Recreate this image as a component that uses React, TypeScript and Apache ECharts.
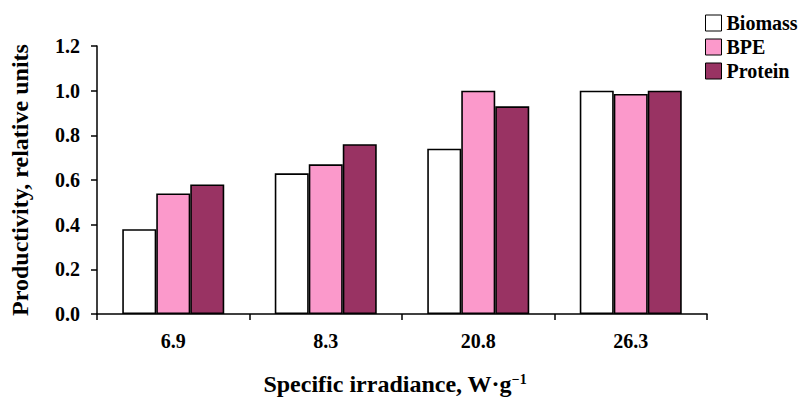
import React, { useEffect, useRef } from "react";
import * as echarts from "echarts";

const categories = ["6.9", "8.3", "20.8", "26.3"];
const seriesNames = ["Biomass", "BPE", "Protein"];
const biomass = [0.38, 0.63, 0.74, 1.0];
const bpe = [0.54, 0.67, 1.0, 0.985];
const protein = [0.58, 0.76, 0.93, 1.0];
const yTicks = { min: 0, max: 1.2, interval: 0.2 };
const colors = ["#ffffff", "#fb99cb", "#993363"];

const FONT = "'Liberation Serif', 'Times New Roman', serif";

export default function App() {
  const ref = useRef<HTMLDivElement>(null);
  useEffect(() => {
    if (!ref.current) return;
    const chart = echarts.init(ref.current, undefined, { renderer: "svg" });
    const values = [biomass, bpe, protein];
    chart.setOption({
      animation: false,
      backgroundColor: "#ffffff",
      textStyle: { fontFamily: FONT },
      grid: { left: 97, right: 92, top: 46, bottom: 86, containLabel: false },
      legend: {
        orient: "vertical",
        left: 700,
        top: 8,
        itemWidth: 16,
        itemHeight: 16,
        itemGap: 4,
        icon: "rect",
        data: seriesNames,
        textStyle: { fontFamily: FONT, fontWeight: "bold", fontSize: 20, color: "#000" },
        itemStyle: { borderColor: "#000", borderWidth: 1 },
      },
      xAxis: {
        type: "category",
        data: categories,
        boundaryGap: true,
        axisLine: { lineStyle: { color: "#000", width: 1.5 } },
        axisTick: { show: true, length: 6, lineStyle: { color: "#000", width: 1.5 } },
        axisLabel: { margin: 17, fontFamily: FONT, fontWeight: "bold", fontSize: 20, color: "#000" },
        name: "Specific irradiance, W·g{sup|−1}",
        nameLocation: "middle",
        nameGap: 58,
        nameTextStyle: {
          fontFamily: FONT,
          fontWeight: "bold",
          fontSize: 24,
          color: "#000",
          padding: [0, 14, 0, 0],
          rich: {
            sup: { fontFamily: FONT, fontWeight: "bold", fontSize: 14, color: "#000", verticalAlign: "top", padding: [0, 0, 10, 0] },
          },
        },
      },
      yAxis: {
        type: "value",
        min: yTicks.min,
        max: yTicks.max,
        interval: yTicks.interval,
        splitLine: { show: false },
        axisLine: { show: true, lineStyle: { color: "#000", width: 1.5 } },
        axisTick: { show: true, length: 6, lineStyle: { color: "#000", width: 1.5 } },
        axisLabel: {
          margin: 17,
          fontFamily: FONT,
          fontWeight: "bold",
          fontSize: 20,
          color: "#000",
          formatter: (v: number) => v.toFixed(1),
        },
        name: "Productivity, relative units",
        nameLocation: "middle",
        nameGap: 65,
        nameTextStyle: { fontFamily: FONT, fontWeight: "bold", fontSize: 24, color: "#000" },
      },
      series: seriesNames.map((name, i) => ({
        name,
        type: "bar",
        data: values[i],
        barWidth: 34,
        barGap: "0%",
        itemStyle: { color: colors[i], borderColor: "#000", borderWidth: 1.6 },
      })),
    });
    return () => chart.dispose();
  }, []);
  return <div ref={ref} style={{ position: "absolute", left: 0, top: 0, width: 799, height: 401 }} />;
}
